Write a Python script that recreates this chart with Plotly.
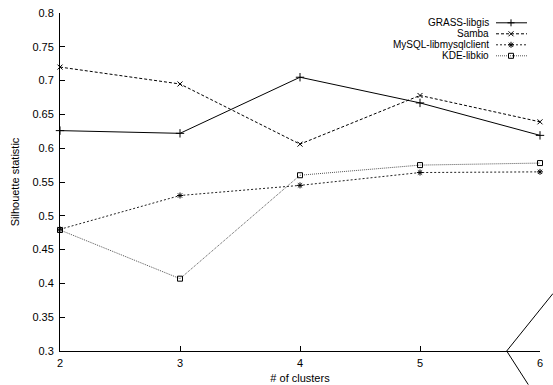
import plotly.graph_objects as go

clusters = [2, 3, 4, 5, 6]
grass = [0.626, 0.622, 0.705, 0.667, 0.619]
samba = [0.720, 0.695, 0.606, 0.678, 0.639]
mysql = [0.480, 0.530, 0.545, 0.564, 0.565]
kde = [0.479, 0.407, 0.560, 0.575, 0.578]

names = ["GRASS-libgis", "Samba", "MySQL-libmysqlclient", "KDE-libkio"]
series = [grass, samba, mysql, kde]
dashes = ["solid", "3px,2px", "2px,2px", "1px,1px"]
colors = ["black", "black", "#222222", "#555555"]
symbols = ["cross-thin-open", "x-thin-open", "asterisk-open", "square-open"]
msizes = [6, 5, 5, 5]

font = dict(family="Liberation Sans, Arial, sans-serif", size=11, color="black")
legfont = dict(family="Liberation Sans, Arial, sans-serif", size=10, color="black")

fig = go.Figure()
for n, ys, d, c, s, ms in zip(names, series, dashes, colors, symbols, msizes):
    fig.add_trace(go.Scatter(
        x=clusters, y=ys, mode="lines+markers", name=n, showlegend=False,
        line=dict(color=c, width=1, dash=d),
        marker=dict(symbol=s, size=ms, color="black", line=dict(color="black", width=1)),
        cliponaxis=False,
    ))

# custom legend (text left, sample right), in a small pixel-based subplot
rows = [22.5, 33.5, 44.5, 55.5]
for i, (n, d, c, s, ms) in enumerate(zip(names, dashes, colors, symbols, msizes)):
    fig.add_trace(go.Scatter(
        x=[496, 527], y=[rows[i], rows[i]], mode="lines", showlegend=False,
        line=dict(color=c, width=1, dash=d), xaxis="x3", yaxis="y3", hoverinfo="skip"))
    fig.add_trace(go.Scatter(
        x=[511], y=[rows[i]], mode="markers", showlegend=False,
        marker=dict(symbol=s, size=5, color="black", line=dict(color="black", width=1)),
        xaxis="x3", yaxis="y3", hoverinfo="skip"))
    fig.add_annotation(text=n, x=490, y=rows[i], xref="x3", yref="y3",
                       xanchor="right", yanchor="middle", showarrow=False, font=legfont,
                       borderpad=0)

fig.update_layout(
    width=553, height=385,
    margin=dict(l=60, r=13, t=13, b=34, autoexpand=False),
    paper_bgcolor="white", plot_bgcolor="white",
    font=font,
    xaxis=dict(range=[2, 6], tickvals=clusters, ticks="inside", ticklen=5,
               tickcolor="black", showline=True, linecolor="black", linewidth=1,
               showgrid=False, zeroline=False, mirror=False, automargin=False,
               ticklabelstandoff=2,
               title=dict(text="# of clusters", font=font, standoff=6),
               tickfont=font),
    yaxis=dict(range=[0.3, 0.8], dtick=0.05, tick0=0.3, ticks="inside", ticklen=5,
               tickcolor="black", showline=True, linecolor="black", linewidth=1,
               showgrid=False, zeroline=False, mirror=False, automargin=False,
               ticklabelstandoff=3,
               title=dict(text="Silhouette statistic", font=font, standoff=10),
               tickfont=font),
    xaxis3=dict(domain=[(480 - 60) / 480, (535 - 60) / 480], range=[480, 535],
                visible=False, fixedrange=True, anchor="y3", automargin=False),
    yaxis3=dict(domain=[(350.7 - 60) / 338, (350.7 - 15) / 338], range=[60, 15],
                visible=False, fixedrange=True, anchor="x3", automargin=False),
    shapes=[dict(type="path", xref="paper", yref="paper",
                 path="M 1.027 0.170 L 0.9306 0 L 0.9756 -0.0994",
                 line=dict(color="black", width=1))],
)

fig.write_html("out.html", config={"displayModeBar": False},
               post_script="document.body.style.margin='0';document.body.style.overflow='hidden';")
